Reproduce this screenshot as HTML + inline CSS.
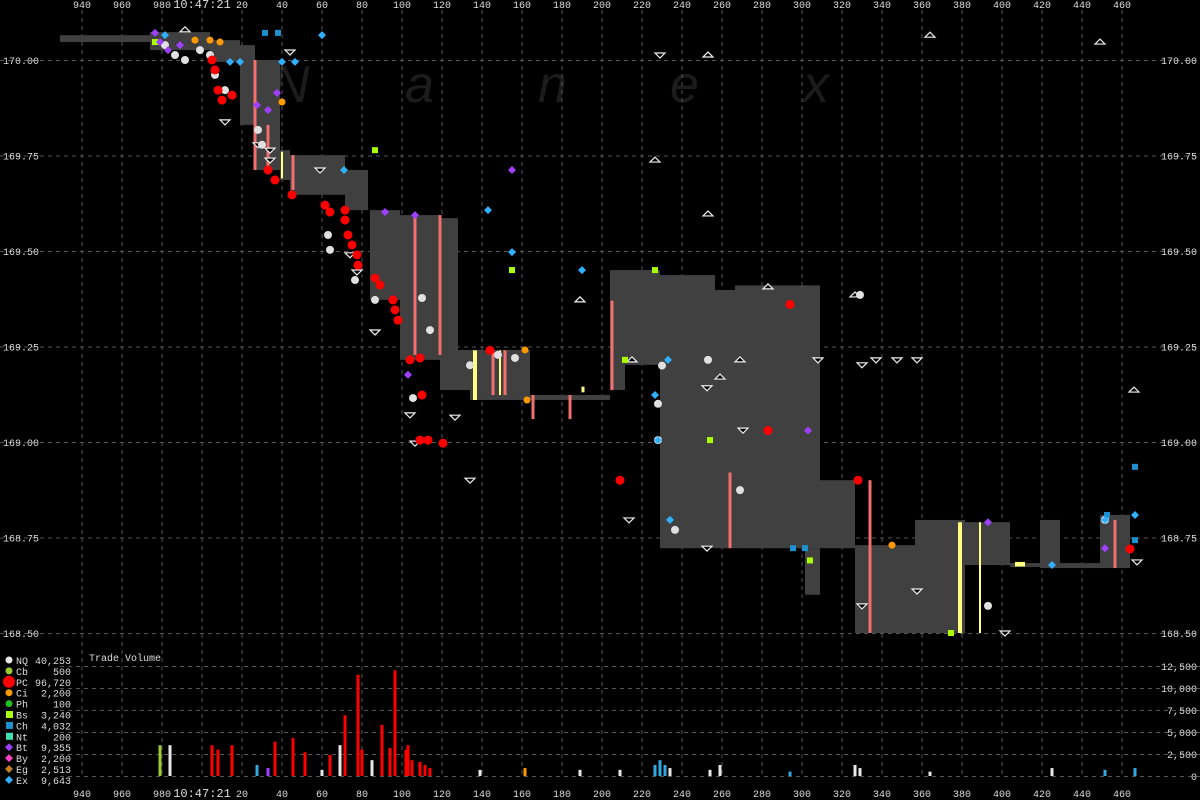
<!DOCTYPE html>
<html><head><meta charset="utf-8">
<style>
html,body{margin:0;padding:0;background:#000;}
svg{display:block;font-family:"Liberation Mono","DejaVu Sans Mono",monospace;}
</style></head>
<body>
<svg id="chart" width="1200" height="800" viewBox="0 0 1200 800" xmlns="http://www.w3.org/2000/svg">
<rect width="1200" height="800" fill="#000"/>
<g id="watermark" fill="#1c1c1c" font-family="Liberation Sans, sans-serif" font-style="italic" font-size="52">
<text x="272" y="102">N</text>
<text x="405" y="102">a</text>
<text x="538" y="102">n</text>
<text x="670" y="102">e</text>
<text x="803" y="102">x</text>
</g>
<g id="grid"></g>
<g id="band"></g>
<g id="bars"></g>
<g id="marks"></g>
<g id="vol"></g>
<g id="axes"></g>
<text x="89" y="661" fill="#ddd" font-size="10">Trade Volume</text>
<g id="legend"></g>
</svg>
<script>
// ---- data ----
const timeTicks=[940,960,980,1000,1020,1040,1060,1080,1100,1120,1140,1160,1180,1200,1220,1240,1260,1280,1300,1320,1340,1360,1380,1400,1420,1440,1460];
const timeTickLabels=["940","960","980","10:47:21","20","40","60","80","100","120","140","160","180","200","220","240","260","280","300","320","340","360","380","400","420","440","460"];
const priceTicks=[170.00,169.75,169.50,169.25,169.00,168.75,168.50];
const priceTickLabels=["170.00","169.75","169.50","169.25","169.00","168.75","168.50"];
const volTicks=[0,2500,5000,7500,10000,12500];
const volTickLabels=["0","2,500","5,000","7,500","10,000","12,500"];

const bandStart=[929,974,1004,1019,1026.5,1039,1044,1071.5,1084,1099,1119,1128,1134,1164,1204,1211.5,1229,1256.5,1266.5,1309,1301.5,1326.5,1356.5,1381.5,1404,1419,1429,1449];
const bandEnd=[974,1004,1019,1026.5,1039,1044,1071.5,1083,1099,1119,1128,1134,1164,1204,1211.5,1229,1256.5,1266.5,1309,1326.5,1309,1356.5,1381.5,1404,1419,1429,1449,1464];
const bandHigh=[170.065,170.073,170.052,170.039,170.0,169.764,169.751,169.712,169.607,169.594,169.586,169.241,169.241,169.123,169.45,169.45,169.437,169.398,169.41,168.90,168.722,168.73,168.796,168.79,168.683,168.796,168.683,168.809];
const bandLow=[170.047,170.026,169.995,169.83,169.712,169.686,169.647,169.607,169.372,169.215,169.136,169.136,169.11,169.11,169.136,169.202,168.722,168.722,168.722,168.722,168.60,168.50,168.50,168.678,168.673,168.67,168.67,168.67];

const pinkT=[1026.5,1033,1045.5,1106.5,1119,1145.5,1151.5,1165.5,1184,1205,1264,1334,1456.5];
const pinkHi=[170.0,169.83,169.751,169.594,169.594,169.24,169.24,169.123,169.123,169.37,168.92,168.90,168.796];
const pinkLo=[169.712,169.71,169.66,169.228,169.228,169.123,169.123,169.06,169.06,169.136,168.722,168.50,168.67];
const yellowT=[1040,1136.5,1149,1190.5,1379,1389,1409];
const yellowHi=[169.76,169.24,169.24,169.145,168.79,168.79,168.686];
const yellowLo=[169.69,169.11,169.123,169.13,168.50,168.50,168.674];
const yellowW=[2,4,2,3,4,2,10];

const pcT=[1005,1006.5,1008,1010,1015,1033,1036.5,1045,1061.5,1064,1071.5,1071.5,1073,1075,1077.5,1078,1086.5,1089,1095.5,1096.5,1098,1104,1109,1110,1109,1113,1120.5,1144,1209,1294,1283,1328,1464];
const pcP=[170.0,169.974,169.921,169.895,169.908,169.712,169.686,169.647,169.62,169.602,169.607,169.581,169.542,169.516,169.49,169.463,169.429,169.411,169.372,169.346,169.319,169.215,169.22,169.123,169.005,169.005,168.997,169.24,168.90,169.36,169.03,168.90,168.72];
const nqT=[981.5,986.5,991.5,999,1004,1006.5,1011.5,1028,1030,1064,1063,1076.5,1086.5,1110,1114,1105.5,1134,1148,1156.5,1228,1230,1253,1269,1236.5,1228,1329,1393,1451.5];
const nqP=[170.039,170.013,170.0,170.026,170.013,169.961,169.921,169.817,169.778,169.503,169.542,169.424,169.372,169.377,169.293,169.115,169.201,169.228,169.22,169.1,169.2,169.215,168.874,168.77,169.005,169.385,168.571,168.796];
const downT=[1011.5,1028,1034,1059,1074,1077.5,1086.5,1106.5,1104,1126.5,1134,1213.5,1252.5,1252.5,1270.5,1308,1330,1337,1347.5,1357.5,1330,1357.5,1401.5,1467.5,1044,1229,1034];
const downP=[169.838,169.778,169.738,169.712,169.49,169.445,169.288,168.997,169.071,169.065,168.9,168.796,169.142,168.722,169.031,169.215,169.202,169.215,169.215,169.215,168.571,168.61,168.50,168.686,170.021,170.013,169.764];
const upT=[991.5,1253,1364,1449,1226.5,1253,1189,1215,1283,1326.5,1466,1269,1259];
const upP=[170.079,170.013,170.065,170.047,169.738,169.597,169.372,169.215,169.406,169.385,169.136,169.215,169.17];
const exT=[981.5,1014,1019,1040,1046.5,1060,1071,1143,1155,1190,1233,1226.5,1228,1234,1425,1451.5,1466.5];
const exP=[170.065,169.995,169.995,169.995,169.995,170.065,169.712,169.607,169.497,169.45,169.215,169.123,169.005,168.796,168.678,168.796,168.809];
const btT=[976.5,979,983,989,1027.5,1033,1037.5,1091.5,1103,1106.5,1155,1303,1393,1451.5];
const btP=[170.071,170.047,170.026,170.039,169.882,169.869,169.914,169.602,169.176,169.594,169.712,169.03,168.79,168.722];
const chT=[1031.5,1038,1295.5,1301.5,1452.5,1466.5,1466.5];
const chP=[170.071,170.071,168.722,168.722,168.809,168.935,168.743];
const bsT=[1086.5,1155,1211.5,1226.5,1254,1304,1374.5,976.5];
const bsP=[169.764,169.45,169.215,169.45,169.005,168.69,168.50,170.047];
const ciT=[1004,1009,996.5,1040,1161.5,1345,1162.5];
const ciP=[170.052,170.047,170.052,169.89,169.241,168.73,169.11];

const volT=[979,984,1005,1008,1015,1036.5,1045.5,1051.5,1071.5,1078,1096.5,1090,1102,1103,1109,1111.5,1114,1069,1064,1080,1085,1094,1105,1226.5,1229,1231.5,1234,1259,1326.5,1329,1425,1451.5,1466.5,1027.5,1033,1060,1139,1161.5,1189,1209,1254,1294,1364];
const volV=[3500,3500,3500,3000,3500,3900,4300,2700,6900,11500,12000,5800,2950,3500,1600,1250,900,3500,2400,3000,1800,3200,1800,1250,1800,1250,900,1250,1250,900,900,700,900,1250,900,700,700,900,700,700,700,500,500];
const volC=["multi","white","red","red","red","red","red","red","red","red","red","red","red","red","red","red","red","white","red","red","white","red","red","blue","blue","blue","white","white","white","white","white","blue","blue","blue","purple","white","white","orange","white","white","white","blue","white"];

// ---- axes functions ----
const xT=t=>122+(t-960)*2;
const yP=p=>60+(170-p)*382;
const yV=v=>776-v*110/12500;
const NS="http://www.w3.org/2000/svg";
function mk(tag,parent,attrs){const e=document.createElementNS(NS,tag);for(const k in attrs)e.setAttribute(k,attrs[k]);parent.appendChild(e);return e;}
const G=id=>document.getElementById(id);

// grid
const grid=G('grid');
timeTicks.forEach((t,i)=>{
  const l=mk('line',grid,{x1:xT(t),x2:xT(t),y1:10,y2:778,stroke:'#555','stroke-dasharray':'4,4','stroke-width':1});
  
  
});
priceTicks.forEach(p=>{
  const l=mk('line',grid,{x1:0,x2:1200,y1:yP(p)+0.5,y2:yP(p)+0.5,stroke:'#555','stroke-dasharray':'4,4','stroke-width':1});
  
  
});
volTicks.forEach(v=>{
  const l=mk('line',grid,{x1:60,x2:1200,y1:yV(v)+0.5,y2:yV(v)+0.5,stroke:'#555','stroke-dasharray':'4,4','stroke-width':1});
  
  
});

// band
const band=G('band');
bandStart.forEach((s,i)=>{
  const y1=yP(bandHigh[i]),y2=yP(bandLow[i]);
  const r=mk('rect',band,{x:xT(s),y:y1,width:Math.max(1,xT(bandEnd[i])-xT(s)),height:Math.max(3,y2-y1),fill:'#404040'});
  
  
});
// price bars
const bars=G('bars');
pinkT.forEach((t,i)=>{
  const r=mk('rect',bars,{x:xT(t)-1.5,y:yP(pinkHi[i]),width:3,height:yP(pinkLo[i])-yP(pinkHi[i]),fill:'#f07070'});
  
  
});
yellowT.forEach((t,i)=>{
  const r=mk('rect',bars,{x:xT(t)-yellowW[i]/2,y:yP(yellowHi[i]),width:yellowW[i],height:Math.max(3,yP(yellowLo[i])-yP(yellowHi[i])),fill:'#ffff80'});
  
  
});

// markers
const marks=G('marks');
function dots(T,P,fill,r,name){T.forEach((t,i)=>{const c=mk('circle',marks,{cx:xT(t),cy:yP(P[i]),r:r,fill:fill});
  
  });}
function dia(T,P,fill,s,name){T.forEach((t,i)=>{const x=xT(t),y=yP(P[i]);
  const c=mk('polygon',marks,{points:`${x},${y-s} ${x+s},${y} ${x},${y+s} ${x-s},${y}`,fill:fill});
  
  });}
function tri(T,P,down,name){T.forEach((t,i)=>{const x=xT(t),y=yP(P[i]);
  const pts=down?`${x-5},${y-2} ${x+5},${y-2} ${x},${y+3}`:`${x-5},${y+2} ${x+5},${y+2} ${x},${y-3}`;
  const c=mk('polygon',marks,{points:pts,fill:'#000',stroke:'#eee','stroke-width':1.2});
  
  });}
function sq(T,P,fill,s,name){T.forEach((t,i)=>{const c=mk('rect',marks,{x:xT(t)-s/2,y:yP(P[i])-s/2,width:s,height:s,fill:fill});
  
  });}
tri(downT,downP,true,'nq-down-triangle');
tri(upT,upP,false,'nq-up-triangle');
dots(nqT,nqP,'#e0e0e0',4,'nq-trade');
dots(pcT,pcP,'#ff0000',4.5,'pc-trade');
dots(ciT,ciP,'#ff9900',3.5,'ci-trade');
sq(bsT,bsP,'#aaff00',6,'bs-trade');
sq(chT,chP,'#1e90d0',6,'ch-trade');
dia(exT,exP,'#30b0ff',4,'ex-quote');
dia(btT,btP,'#a040ff',4,'bt-quote');

// volume
const colMap={red:'#ff0000',white:'#e8e8e8',blue:'#30a8e0',purple:'#a040ff',orange:'#ff9900',multi:'#9c3'};
const vol=G('vol');
volT.forEach((t,i)=>{
  const y=yV(volV[i]);
  const r=mk('rect',vol,{x:xT(t)-1.5,y:y,width:3,height:776-y,fill:colMap[volC[i]]});
  
  
});

// axes labels
const axes=G('axes');
timeTicks.forEach((t,i)=>{
  [8,797].forEach(yy=>{
    const tx=mk('text',axes,{x:xT(t),y:yy,fill:'#ddd','font-size':i===3?12:10,'text-anchor':'middle'});
    tx.textContent=timeTickLabels[i];
    
    
  });
});
priceTicks.forEach((p,i)=>{
  [[3,'start'],[1197,'end']].forEach(([xx,a])=>{
    const tx=mk('text',axes,{x:xx,y:yP(p)+4,fill:'#ddd','font-size':10,'text-anchor':a});
    tx.textContent=priceTickLabels[i];
    
    
  });
});
volTicks.forEach((v,i)=>{
  const tx=mk('text',axes,{x:1197,y:yV(v)+4,fill:'#ddd','font-size':10,'text-anchor':'end'});
  tx.textContent=volTickLabels[i];
  
  
});

// legend
const legNames=["NQ","Cb","PC","Ci","Ph","Bs","Ch","Nt","Bt","By","Eg","Ex"];
const legVals=["40,253","500","96,720","2,200","100","3,240","4,032","200","9,355","2,200","2,513","9,643"];
const legColors=["#e8e8e8","#99cc33","#ff0000","#ff9900","#22bb22","#aaff00","#1e90d0","#40e0b0","#a040ff","#ff40c0","#c08020","#30b0ff"];
const legShapes=["c","c","C","c","c","s","s","s","d","d","d","d"];
const leg=G('legend');
legNames.forEach((n,i)=>{
  const y=660+i*10.9;
  const c=legColors[i];let m;
  if(legShapes[i]==='c')m=mk('circle',leg,{cx:9,cy:y,r:3.5,fill:c});
  else if(legShapes[i]==='C')m=mk('circle',leg,{cx:9,cy:y,r:6,fill:c});
  else if(legShapes[i]==='s')m=mk('rect',leg,{x:6,y:y-3.5,width:7,height:7,fill:c});
  else m=mk('polygon',leg,{points:`9,${y-4} 13,${y} 9,${y+4} 5,${y}`,fill:c});
  
  
  const t1=mk('text',leg,{x:16,y:y+4,fill:'#ddd','font-size':10});
  t1.textContent=n;
  
  
  const t2=mk('text',leg,{x:71,y:y+4,fill:'#ddd','font-size':10,'text-anchor':'end'});
  t2.textContent=legVals[i];
  
  
});
</script>
</body></html>
